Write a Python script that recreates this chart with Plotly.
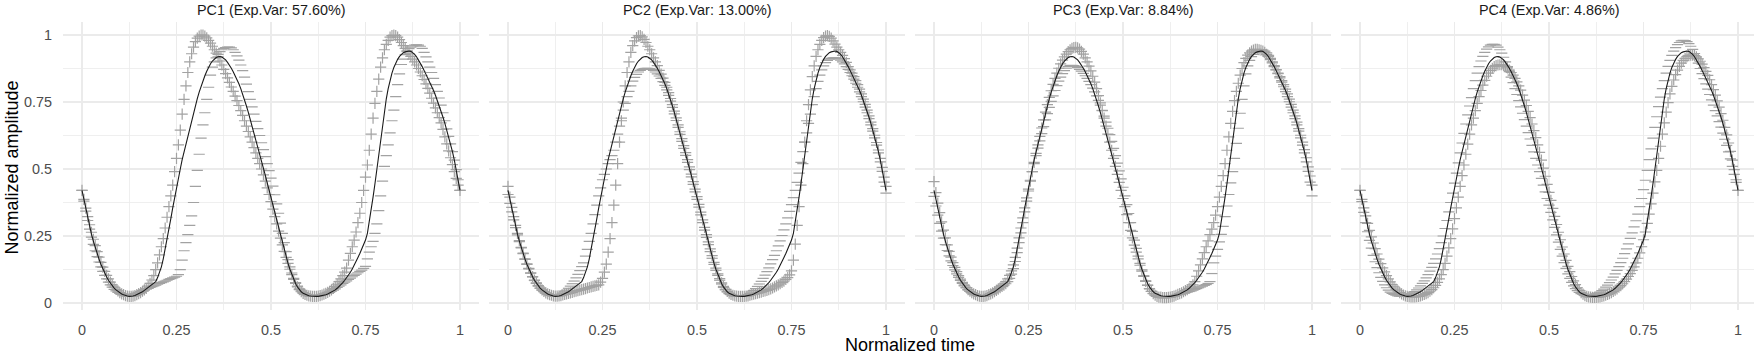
import numpy as np
import plotly.graph_objects as go

# ---------------- data ----------------
TIME = np.linspace(0, 1, 201)

MEAN = [
    0.420,0.385,0.350,0.317,0.286,0.257,0.231,0.207,0.185,0.164,0.145,0.128,0.112,0.098,0.085,0.074,0.064,0.056,0.049,0.043,
    0.038,0.034,0.031,0.028,0.026,0.025,0.025,0.026,0.028,0.031,0.034,0.038,0.042,0.047,0.052,0.057,0.062,0.067,0.072,0.080,
    0.095,0.113,0.135,0.165,0.200,0.240,0.275,0.315,0.355,0.395,0.430,0.465,0.500,0.535,0.565,0.595,0.625,0.655,0.685,0.712,
    0.738,0.763,0.787,0.810,0.830,0.848,0.865,0.880,0.893,0.903,0.911,0.916,0.919,0.920,0.918,0.914,0.907,0.898,0.888,0.876,
    0.863,0.849,0.834,0.818,0.800,0.780,0.758,0.735,0.711,0.686,0.660,0.634,0.608,0.582,0.556,0.530,0.503,0.476,0.448,0.420,
    0.392,0.363,0.334,0.305,0.277,0.250,0.223,0.197,0.172,0.148,0.126,0.106,0.088,0.073,0.060,0.050,0.042,0.036,0.032,0.029,
    0.027,0.026,0.025,0.025,0.025,0.025,0.026,0.027,0.029,0.031,0.034,0.037,0.040,0.044,0.049,0.055,0.061,0.068,0.076,0.085,
    0.094,0.104,0.115,0.127,0.140,0.155,0.170,0.185,0.200,0.215,0.235,0.260,0.300,0.345,0.395,0.445,0.500,0.555,0.610,0.665,
    0.715,0.762,0.800,0.832,0.858,0.879,0.896,0.909,0.920,0.928,0.934,0.937,0.939,0.940,0.939,0.935,0.928,0.919,0.908,0.895,
    0.882,0.868,0.854,0.840,0.825,0.810,0.793,0.775,0.756,0.736,0.715,0.693,0.670,0.646,0.621,0.594,0.565,0.533,0.498,0.460,
    0.420,
]

PC1_PLUS = [
    0.420,0.387,0.354,0.322,0.292,0.264,0.238,0.214,0.192,0.171,0.152,0.134,0.118,0.103,0.090,0.078,0.068,0.059,0.051,0.045,
    0.039,0.034,0.031,0.028,0.026,0.025,0.025,0.026,0.028,0.031,0.035,0.039,0.044,0.049,0.055,0.063,0.073,0.086,0.102,0.125,
    0.150,0.180,0.210,0.240,0.280,0.320,0.360,0.400,0.440,0.490,0.540,0.590,0.645,0.705,0.760,0.810,0.860,0.900,0.930,0.955,
    0.975,0.988,0.996,1.000,1.000,0.996,0.989,0.980,0.970,0.958,0.945,0.932,0.918,0.903,0.888,0.872,0.856,0.840,0.823,0.806,
    0.790,0.772,0.755,0.737,0.718,0.700,0.680,0.660,0.640,0.620,0.600,0.580,0.560,0.540,0.520,0.500,0.478,0.455,0.430,0.405,
    0.378,0.350,0.322,0.295,0.268,0.242,0.217,0.193,0.170,0.148,0.126,0.106,0.088,0.073,0.060,0.050,0.042,0.036,0.032,0.029,
    0.027,0.026,0.025,0.025,0.025,0.026,0.028,0.030,0.033,0.036,0.040,0.044,0.049,0.055,0.062,0.070,0.080,0.090,0.102,0.115,
    0.130,0.160,0.185,0.210,0.235,0.265,0.300,0.335,0.375,0.420,0.470,0.515,0.570,0.630,0.690,0.745,0.790,0.835,0.880,0.915,
    0.945,0.965,0.980,0.992,0.998,1.000,0.998,0.992,0.983,0.972,0.960,0.950,0.940,0.930,0.920,0.910,0.900,0.888,0.875,0.862,
    0.848,0.834,0.818,0.801,0.783,0.764,0.746,0.728,0.710,0.692,0.672,0.648,0.620,0.594,0.568,0.542,0.516,0.490,0.465,0.440,
    0.420,
]

PC1_MINUS = [
    0.420,0.380,0.343,0.308,0.276,0.246,0.219,0.195,0.173,0.153,0.135,0.118,0.103,0.090,0.078,0.068,0.059,0.051,0.045,0.040,
    0.036,0.033,0.031,0.030,0.030,0.030,0.031,0.033,0.035,0.037,0.040,0.043,0.046,0.049,0.052,0.055,0.058,0.061,0.064,0.067,
    0.070,0.073,0.076,0.079,0.082,0.085,0.088,0.091,0.094,0.097,0.100,0.106,0.125,0.160,0.195,0.225,0.255,0.290,0.325,0.375,
    0.435,0.495,0.555,0.615,0.665,0.710,0.760,0.805,0.850,0.880,0.900,0.915,0.928,0.938,0.945,0.950,0.953,0.955,0.955,0.952,
    0.945,0.935,0.922,0.906,0.888,0.867,0.843,0.817,0.789,0.760,0.732,0.705,0.678,0.651,0.625,0.598,0.572,0.546,0.520,0.494,
    0.466,0.436,0.404,0.370,0.335,0.298,0.260,0.225,0.192,0.162,0.135,0.112,0.092,0.076,0.063,0.053,0.045,0.039,0.035,0.032,
    0.030,0.029,0.028,0.028,0.028,0.029,0.030,0.032,0.034,0.036,0.037,0.040,0.044,0.048,0.053,0.058,0.063,0.068,0.073,0.078,
    0.083,0.088,0.093,0.098,0.103,0.108,0.113,0.118,0.123,0.129,0.137,0.165,0.190,0.210,0.230,0.260,0.295,0.345,0.400,0.455,
    0.510,0.550,0.590,0.635,0.680,0.720,0.770,0.815,0.855,0.890,0.910,0.927,0.940,0.949,0.955,0.959,0.962,0.963,0.962,0.958,
    0.950,0.935,0.918,0.900,0.880,0.860,0.838,0.815,0.790,0.765,0.738,0.710,0.680,0.650,0.622,0.594,0.565,0.533,0.498,0.460,
    0.420,
]

PC2_PLUS = [
    0.435,0.395,0.357,0.322,0.290,0.260,0.233,0.208,0.186,0.165,0.146,0.129,0.113,0.099,0.086,0.075,0.065,0.056,0.049,0.043,
    0.038,0.034,0.031,0.029,0.027,0.026,0.026,0.027,0.028,0.030,0.032,0.034,0.036,0.038,0.040,0.042,0.044,0.046,0.048,0.050,
    0.052,0.054,0.056,0.058,0.060,0.062,0.064,0.066,0.068,0.078,0.092,0.115,0.145,0.190,0.240,0.300,0.365,0.440,0.520,0.600,
    0.680,0.750,0.810,0.860,0.900,0.935,0.960,0.978,0.990,0.997,0.998,0.993,0.984,0.972,0.958,0.945,0.930,0.915,0.900,0.886,
    0.868,0.854,0.839,0.823,0.805,0.785,0.763,0.740,0.716,0.691,0.665,0.639,0.613,0.587,0.561,0.535,0.508,0.481,0.453,0.425,
    0.397,0.368,0.339,0.310,0.282,0.255,0.228,0.202,0.177,0.152,0.130,0.109,0.091,0.075,0.062,0.051,0.043,0.037,0.032,0.029,
    0.027,0.026,0.025,0.025,0.025,0.025,0.026,0.027,0.029,0.031,0.033,0.035,0.037,0.039,0.041,0.043,0.045,0.047,0.050,0.053,
    0.056,0.060,0.064,0.068,0.072,0.077,0.082,0.088,0.095,0.105,0.120,0.160,0.220,0.290,0.360,0.440,0.520,0.600,0.680,0.740,
    0.795,0.845,0.885,0.920,0.945,0.965,0.980,0.990,0.996,0.998,0.995,0.988,0.978,0.966,0.955,0.945,0.935,0.924,0.912,0.898,
    0.882,0.870,0.858,0.845,0.830,0.815,0.798,0.780,0.761,0.741,0.720,0.698,0.675,0.651,0.626,0.599,0.571,0.540,0.506,0.470,
    0.435,
]

PC2_MINUS = [
    0.405,0.372,0.340,0.310,0.281,0.254,0.229,0.206,0.184,0.163,0.144,0.127,0.111,0.097,0.084,0.073,0.063,0.055,0.048,0.042,
    0.037,0.033,0.030,0.028,0.027,0.027,0.028,0.030,0.033,0.037,0.042,0.048,0.055,0.063,0.072,0.082,0.094,0.107,0.121,0.136,
    0.150,0.175,0.200,0.230,0.260,0.295,0.330,0.365,0.400,0.430,0.460,0.480,0.500,0.520,0.535,0.550,0.570,0.600,0.630,0.660,
    0.690,0.720,0.745,0.770,0.790,0.810,0.828,0.842,0.853,0.862,0.868,0.872,0.875,0.876,0.876,0.875,0.872,0.868,0.862,0.855,
    0.847,0.838,0.826,0.812,0.795,0.775,0.753,0.730,0.706,0.681,0.655,0.629,0.603,0.577,0.551,0.525,0.498,0.471,0.443,0.415,
    0.387,0.358,0.329,0.300,0.272,0.245,0.218,0.192,0.167,0.144,0.122,0.103,0.085,0.071,0.058,0.049,0.041,0.035,0.031,0.028,
    0.027,0.026,0.025,0.025,0.026,0.027,0.029,0.032,0.036,0.041,0.047,0.054,0.062,0.071,0.081,0.092,0.104,0.117,0.131,0.146,
    0.162,0.178,0.195,0.213,0.232,0.252,0.273,0.295,0.318,0.342,0.367,0.393,0.420,0.450,0.485,0.525,0.565,0.600,0.635,0.670,
    0.705,0.740,0.770,0.800,0.827,0.850,0.870,0.885,0.897,0.905,0.910,0.913,0.915,0.915,0.914,0.911,0.906,0.900,0.892,0.882,
    0.872,0.860,0.848,0.835,0.820,0.805,0.788,0.770,0.751,0.731,0.710,0.688,0.665,0.641,0.616,0.589,0.560,0.527,0.491,0.451,
    0.410,
]

PC3_PLUS = [
    0.453,0.412,0.373,0.337,0.303,0.272,0.243,0.217,0.193,0.171,0.151,0.133,0.117,0.102,0.089,0.077,0.067,0.058,0.050,0.044,
    0.039,0.034,0.031,0.028,0.026,0.025,0.025,0.026,0.028,0.031,0.034,0.038,0.042,0.047,0.052,0.057,0.062,0.067,0.072,0.080,
    0.092,0.108,0.128,0.155,0.188,0.225,0.262,0.300,0.340,0.380,0.418,0.455,0.490,0.525,0.558,0.590,0.622,0.653,0.683,0.712,
    0.740,0.767,0.792,0.816,0.838,0.858,0.876,0.892,0.906,0.918,0.929,0.938,0.945,0.950,0.953,0.954,0.952,0.947,0.939,0.929,
    0.915,0.900,0.884,0.866,0.846,0.824,0.800,0.774,0.747,0.719,0.690,0.660,0.630,0.600,0.570,0.540,0.510,0.480,0.450,0.420,
    0.390,0.360,0.330,0.300,0.271,0.243,0.216,0.190,0.165,0.141,0.119,0.099,0.081,0.066,0.053,0.043,0.035,0.029,0.025,0.022,
    0.022,0.020,0.020,0.020,0.021,0.022,0.024,0.026,0.029,0.032,0.035,0.038,0.042,0.046,0.050,0.055,0.060,0.068,0.080,0.100,
    0.120,0.142,0.165,0.188,0.210,0.232,0.255,0.276,0.300,0.328,0.360,0.395,0.435,0.475,0.520,0.570,0.620,0.670,0.715,0.755,
    0.790,0.820,0.850,0.875,0.897,0.913,0.925,0.933,0.940,0.944,0.946,0.946,0.945,0.943,0.940,0.935,0.928,0.919,0.908,0.896,
    0.882,0.870,0.858,0.845,0.830,0.815,0.798,0.780,0.761,0.741,0.720,0.698,0.675,0.651,0.626,0.600,0.572,0.542,0.508,0.474,
    0.440,
]

PC3_MINUS = [
    0.398,0.362,0.328,0.297,0.268,0.242,0.218,0.196,0.176,0.157,0.140,0.124,0.109,0.096,0.084,0.073,0.064,0.056,0.049,0.043,
    0.038,0.034,0.031,0.029,0.027,0.026,0.026,0.027,0.029,0.032,0.035,0.039,0.044,0.049,0.054,0.060,0.066,0.072,0.080,0.090,
    0.103,0.120,0.142,0.170,0.205,0.243,0.280,0.318,0.355,0.392,0.425,0.458,0.490,0.520,0.550,0.578,0.605,0.632,0.658,0.683,
    0.707,0.730,0.752,0.773,0.793,0.811,0.828,0.843,0.856,0.867,0.876,0.882,0.886,0.887,0.886,0.883,0.878,0.872,0.865,0.857,
    0.848,0.838,0.827,0.815,0.802,0.788,0.773,0.756,0.738,0.718,0.697,0.675,0.652,0.628,0.603,0.577,0.550,0.522,0.493,0.463,
    0.432,0.400,0.367,0.334,0.300,0.267,0.235,0.204,0.175,0.148,0.124,0.102,0.083,0.067,0.054,0.044,0.036,0.030,0.026,0.023,
    0.021,0.020,0.020,0.021,0.022,0.023,0.025,0.027,0.029,0.031,0.033,0.035,0.037,0.039,0.041,0.043,0.045,0.048,0.051,0.054,
    0.057,0.060,0.063,0.066,0.069,0.073,0.080,0.110,0.150,0.175,0.200,0.228,0.256,0.286,0.322,0.362,0.405,0.448,0.490,0.540,
    0.596,0.652,0.708,0.760,0.810,0.855,0.885,0.905,0.919,0.928,0.935,0.941,0.944,0.945,0.944,0.940,0.933,0.924,0.913,0.900,
    0.886,0.871,0.856,0.840,0.824,0.807,0.789,0.770,0.751,0.731,0.710,0.688,0.665,0.641,0.616,0.589,0.560,0.527,0.491,0.451,
    0.400,
]

PC4_PLUS = [
    0.420,0.387,0.355,0.325,0.297,0.271,0.247,0.224,0.203,0.183,0.164,0.147,0.131,0.116,0.102,0.090,0.079,0.069,0.060,0.052,
    0.045,0.039,0.034,0.030,0.027,0.025,0.024,0.023,0.023,0.023,0.024,0.025,0.027,0.029,0.032,0.035,0.039,0.044,0.050,0.057,
    0.066,0.077,0.090,0.106,0.125,0.148,0.175,0.206,0.240,0.277,0.315,0.355,0.395,0.435,0.475,0.515,0.555,0.593,0.630,0.665,
    0.690,0.718,0.745,0.770,0.793,0.813,0.831,0.846,0.858,0.868,0.876,0.882,0.886,0.888,0.889,0.889,0.887,0.883,0.877,0.869,
    0.860,0.850,0.838,0.825,0.810,0.794,0.776,0.757,0.737,0.715,0.692,0.668,0.643,0.617,0.590,0.562,0.533,0.503,0.473,0.443,
    0.413,0.383,0.353,0.323,0.293,0.264,0.236,0.209,0.183,0.159,0.137,0.117,0.099,0.083,0.069,0.057,0.047,0.039,0.033,0.028,
    0.025,0.023,0.022,0.021,0.021,0.021,0.022,0.023,0.025,0.027,0.029,0.032,0.035,0.039,0.043,0.048,0.053,0.059,0.065,0.072,
    0.080,0.089,0.099,0.110,0.122,0.135,0.150,0.167,0.187,0.210,0.236,0.265,0.297,0.332,0.370,0.410,0.452,0.495,0.540,0.585,
    0.630,0.672,0.712,0.748,0.780,0.808,0.832,0.852,0.869,0.883,0.895,0.905,0.913,0.919,0.923,0.925,0.925,0.923,0.918,0.911,
    0.902,0.891,0.878,0.864,0.849,0.833,0.815,0.796,0.776,0.754,0.731,0.707,0.682,0.655,0.627,0.597,0.566,0.533,0.498,0.460,
    0.420,
]

PC4_MINUS = [
    0.420,0.378,0.338,0.300,0.266,0.234,0.205,0.178,0.154,0.132,0.113,0.096,0.081,0.068,0.057,0.048,0.041,0.036,0.032,0.029,
    0.027,0.026,0.026,0.026,0.027,0.029,0.031,0.034,0.038,0.043,0.049,0.056,0.064,0.073,0.083,0.094,0.106,0.119,0.133,0.148,
    0.165,0.183,0.203,0.225,0.250,0.278,0.308,0.340,0.375,0.410,0.447,0.485,0.523,0.560,0.597,0.633,0.668,0.702,0.735,0.766,
    0.800,0.830,0.858,0.882,0.903,0.920,0.935,0.947,0.956,0.962,0.965,0.965,0.962,0.955,0.945,0.932,0.917,0.900,0.882,0.863,
    0.843,0.822,0.800,0.778,0.755,0.732,0.708,0.684,0.660,0.636,0.612,0.588,0.564,0.540,0.515,0.490,0.465,0.440,0.415,0.390,
    0.365,0.338,0.310,0.282,0.254,0.227,0.200,0.175,0.151,0.129,0.109,0.092,0.077,0.064,0.054,0.046,0.040,0.035,0.032,0.030,
    0.029,0.029,0.029,0.030,0.032,0.034,0.037,0.041,0.046,0.052,0.059,0.067,0.076,0.086,0.097,0.109,0.122,0.136,0.151,0.167,
    0.184,0.202,0.221,0.241,0.262,0.284,0.307,0.332,0.360,0.390,0.423,0.458,0.495,0.535,0.575,0.615,0.655,0.695,0.733,0.768,
    0.800,0.830,0.858,0.883,0.905,0.924,0.940,0.953,0.964,0.972,0.978,0.980,0.979,0.975,0.968,0.958,0.946,0.931,0.914,0.895,
    0.875,0.856,0.837,0.818,0.798,0.778,0.758,0.738,0.718,0.698,0.677,0.656,0.634,0.611,0.588,0.564,0.538,0.510,0.480,0.450,
    0.420,
]

PANEL_TITLES = [
    "PC1 (Exp.Var: 57.60%)",
    "PC2 (Exp.Var: 13.00%)",
    "PC3 (Exp.Var: 8.84%)",
    "PC4 (Exp.Var: 4.86%)",
]
PLUS_SERIES = [PC1_PLUS, PC2_PLUS, PC3_PLUS, PC4_PLUS]
MINUS_SERIES = [PC1_MINUS, PC2_MINUS, PC3_MINUS, PC4_MINUS]

TICK_VALUES = [0, 0.25, 0.5, 0.75, 1]
TICK_LABELS = ["0", "0.25", "0.5", "0.75", "1"]
MINOR_VALUES = [0.125, 0.375, 0.625, 0.875]

for s in [MEAN] + PLUS_SERIES + MINUS_SERIES:
    assert len(s) == len(TIME), len(s)

# ---------------- layout ----------------
W, H = 1754, 356
FONT = "Liberation Sans, Arial, Helvetica, sans-serif"
GRID = "#EBEBEB"
MARK = "#A2A2A2"

PX_PER_UNIT = 378.0
X0_PX = [82, 508, 934, 1360]          # pixel of t = 0 in each panel
Y_TOP_PX, Y_BOT_PX = 21.7, 310.0
Y_RANGE = [-0.026, 1.0496]

fig = go.Figure()

for k in range(4):
    ax = "" if k == 0 else str(k + 1)
    xref, yref = "x" + ax, "y" + ax
    x0 = X0_PX[k]
    left = x0 - 0.05 * PX_PER_UNIT
    right = min(x0 + 1.05 * PX_PER_UNIT, W)
    xr = [-0.05, (right - x0) / PX_PER_UNIT]

    fig.add_trace(go.Scatter(
        x=TIME, y=PLUS_SERIES[k], mode="markers", xaxis=xref, yaxis=yref,
        marker=dict(symbol="cross-thin", size=8, color=MARK,
                    line=dict(color=MARK, width=1.2)),
        showlegend=False, hoverinfo="skip"))
    fig.add_trace(go.Scatter(
        x=TIME, y=MINUS_SERIES[k], mode="markers", xaxis=xref, yaxis=yref,
        marker=dict(symbol="line-ew", size=8, color=MARK,
                    line=dict(color=MARK, width=1.2)),
        showlegend=False, hoverinfo="skip"))
    fig.add_trace(go.Scatter(
        x=TIME, y=MEAN, mode="lines", xaxis=xref, yaxis=yref,
        line=dict(color="#1a1a1a", width=1.1),
        showlegend=False, hoverinfo="skip"))

    xa = dict(
        domain=[left / W, right / W], range=xr, anchor=yref,
        tickvals=TICK_VALUES, ticktext=TICK_LABELS, ticks="",
        showgrid=True, gridcolor=GRID, gridwidth=1.6, zeroline=False,
        showline=False, ticklabelstandoff=10,
        tickfont=dict(family=FONT, size=14.4, color="#4D4D4D"),
        minor=dict(tickvals=MINOR_VALUES, showgrid=True, gridcolor=GRID,
                   gridwidth=0.8, ticks=""),
    )
    ya = dict(
        domain=[1 - Y_BOT_PX / H, 1 - Y_TOP_PX / H], range=Y_RANGE,
        anchor=xref, tickvals=TICK_VALUES, ticktext=TICK_LABELS, ticks="",
        showgrid=True, gridcolor=GRID, gridwidth=1.6, zeroline=False,
        showline=False, showticklabels=(k == 0), ticklabelstandoff=10,
        tickfont=dict(family=FONT, size=14.4, color="#4D4D4D"),
        minor=dict(tickvals=MINOR_VALUES, showgrid=True, gridcolor=GRID,
                   gridwidth=0.8, ticks=""),
    )
    fig.layout["xaxis" + ax] = xa
    fig.layout["yaxis" + ax] = ya

    fig.add_annotation(
        text=PANEL_TITLES[k], xref="paper", yref="paper",
        x=(x0 + 0.5 * PX_PER_UNIT) / W, y=1 - 10.5 / H,
        xanchor="center", yanchor="middle", showarrow=False,
        font=dict(family=FONT, size=14.4, color="#1A1A1A"))

fig.add_annotation(
    text="Normalized time", xref="paper", yref="paper",
    x=910 / W, y=1 - 345 / H, xanchor="center", yanchor="middle",
    showarrow=False, font=dict(family=FONT, size=18, color="black"))
fig.add_annotation(
    text="Normalized amplitude", xref="paper", yref="paper",
    x=11 / W, y=1 - 167.5 / H, xanchor="center", yanchor="middle",
    textangle=-90, showarrow=False,
    font=dict(family=FONT, size=18, color="black"))

fig.update_layout(
    width=W, height=H, margin=dict(l=0, r=0, t=0, b=0),
    paper_bgcolor="white", plot_bgcolor="white",
)

# remove the browser's default 8 px body margin so the figure fills the window
fig.write_html(
    "out.html",
    config={"displayModeBar": False, "staticPlot": True},
    post_script="document.body.style.margin='0px';"
                "document.body.style.overflow='hidden';",
)
